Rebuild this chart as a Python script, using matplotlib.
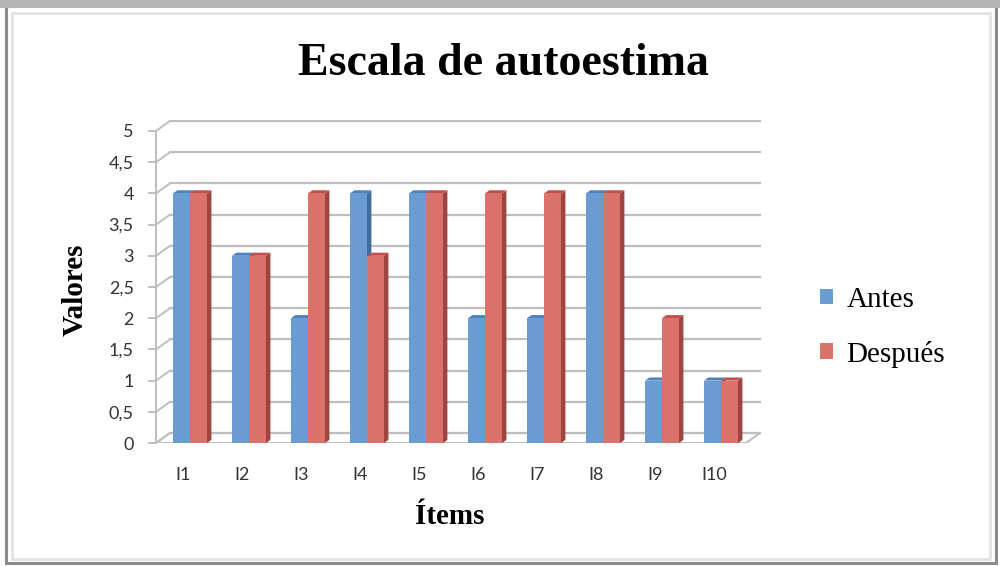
import matplotlib.pyplot as plt
import matplotlib.patches as patches

# --- Datos ---
items = ["I1", "I2", "I3", "I4", "I5", "I6", "I7", "I8", "I9", "I10"]
antes = [4, 3, 2, 4, 4, 2, 2, 4, 1, 1]
despues = [4, 3, 4, 3, 4, 4, 4, 4, 2, 1]
yticks = [0, 0.5, 1, 1.5, 2, 2.5, 3, 3.5, 4, 4.5, 5]
ytick_labels = ["0", "0,5", "1", "1,5", "2", "2,5", "3", "3,5", "4", "4,5", "5"]

# colores tipo Excel 2007 (frente, lado, tapa)
azul = ("#6A9BD1", "#3F6EA3", "#4F81BD")
rojo = ("#DA726B", "#A0443F", "#C0504D")

# desplazamiento de la pared del fondo (perspectiva) y profundidad de barra
dx_fondo, dy_fondo = 0.237, 0.16
dx_barra, dy_barra = 0.075, 0.05
ancho = 0.288

fig = plt.figure(figsize=(10, 5.66), dpi=100)
fig.patch.set_facecolor("white")

# --- Marco del gráfico ---
fig.patches.append(patches.Rectangle((0.006, 0.006), 0.99, 0.983, transform=fig.transFigure,
                                     facecolor="none", edgecolor="#8a8a8a", linewidth=2.2))
fig.patches.append(patches.Rectangle((0.0, 0.985), 1.0, 0.015, transform=fig.transFigure,
                                     facecolor="#b5b5b5", edgecolor="none"))
fig.patches.append(patches.Rectangle((0.012, 0.012), 0.978, 0.965, transform=fig.transFigure,
                                     facecolor="none", edgecolor="#e2e2e2", linewidth=2))

ax = fig.add_axes([0.156, 0.2173, 0.62, 0.5707])
ax.set_xlim(0, 620 / 59)
ax.set_ylim(0, 323 / 62.4)
n = len(items)

# --- Suelo ---
suelo = patches.Polygon([(0, 0), (n, 0), (n + dx_fondo, dy_fondo), (dx_fondo, dy_fondo)],
                        closed=True, facecolor="white", edgecolor="#bfbfbf", linewidth=1.5, zorder=1)
ax.add_patch(suelo)

# --- Líneas de cuadrícula en la pared del fondo ---
for v in yticks:
    ax.plot([0, dx_fondo], [v, v + dy_fondo], color="#bfbfbf", lw=1.4, zorder=1)
    ax.plot([dx_fondo, n + dx_fondo], [v + dy_fondo, v + dy_fondo], color="#bfbfbf", lw=1.6, zorder=1)


def barra_3d(x0, valor, colores, z):
    frente, lado, tapa = colores
    ax.add_patch(patches.Polygon([(x0 + ancho, 0), (x0 + ancho + dx_barra, dy_barra),
                                  (x0 + ancho + dx_barra, valor + dy_barra), (x0 + ancho, valor)],
                                 closed=True, facecolor=lado, edgecolor="none", zorder=z))
    ax.add_patch(patches.Polygon([(x0, valor), (x0 + dx_barra, valor + dy_barra),
                                  (x0 + ancho + dx_barra, valor + dy_barra), (x0 + ancho, valor)],
                                 closed=True, facecolor=tapa, edgecolor="none", zorder=z))


# --- Barras ---
for i in range(n):
    barra_3d(i + 0.288, antes[i], azul, 2)
    barra_3d(i + 0.576, despues[i], rojo, 3)
xs = [i + 0.288 for i in range(n)]
b1 = ax.bar(xs, antes, width=ancho, align="edge", color=azul[0], zorder=2, label="Antes")
b2 = ax.bar([x + ancho for x in xs], despues, width=ancho, align="edge", color=rojo[0],
            zorder=3, label="Después")

# --- Ejes ---
for s in ["top", "right", "bottom"]:
    ax.spines[s].set_visible(False)
ax.spines["left"].set_color("#bfbfbf")
ax.spines["left"].set_linewidth(1.5)
ax.spines["left"].set_bounds(0, 5)
ax.set_yticks(yticks)
ax.set_yticklabels(ytick_labels, fontfamily="Lato", fontsize=13, color="#333333")
ax.tick_params(axis="y", length=6, width=1.4, color="#bfbfbf", pad=10)
ax.set_xticks([i + 0.458 for i in range(n)])
ax.set_xticklabels(items, fontfamily="Lato", fontsize=13, color="#333333")
ax.tick_params(axis="x", length=0, pad=17)
ax.patch.set_visible(False)

# --- Títulos y leyenda ---
fig.text(0.504, 0.887, "Escala de autoestima", ha="center", va="center",
         fontfamily="Liberation Serif", fontsize=33, fontweight="bold")
fig.text(0.075, 0.488, "Valores", ha="center", va="center", rotation=90,
         fontfamily="Liberation Serif", fontsize=21, fontweight="bold")
fig.text(0.45, 0.088, "Ítems", ha="center", va="center",
         fontfamily="Liberation Serif", fontsize=21, fontweight="bold")

leg = fig.legend(handles=[b1, b2], loc="center left", bbox_to_anchor=(0.82, 0.422),
                 frameon=False, borderpad=0, borderaxespad=0, handlelength=0.45,
                 handleheight=0.45, handletextpad=0.45, labelspacing=0.95,
                 prop={"family": "Liberation Serif", "size": 21})

plt.savefig("out.png", dpi=100)
plt.close()
